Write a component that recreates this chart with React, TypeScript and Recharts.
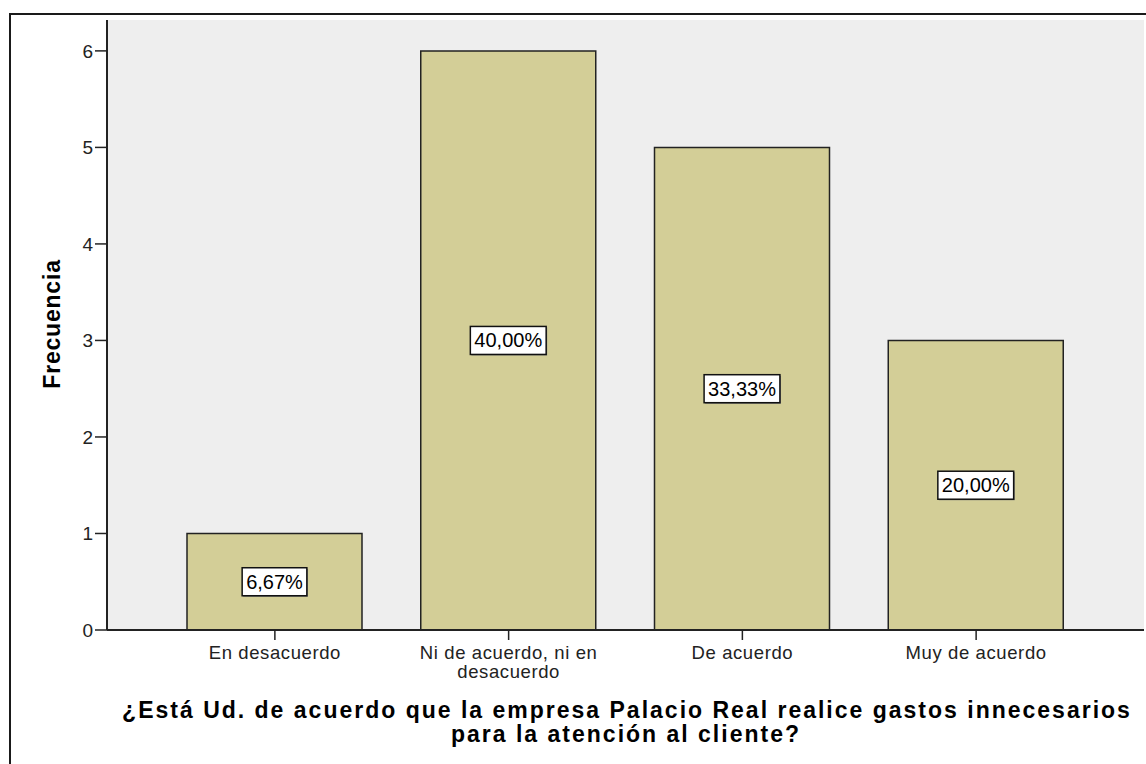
import { BarChart, Bar, XAxis, YAxis, CartesianGrid, LabelList, Text } from "recharts";

const categories = [
  "En desacuerdo",
  "Ni de acuerdo, ni en desacuerdo",
  "De acuerdo",
  "Muy de acuerdo",
];
const frecuencias = [1, 6, 5, 3];
const porcentajes = ["6,67%", "40,00%", "33,33%", "20,00%"];
const yTicks = [0, 1, 2, 3, 4, 5, 6];

const data = categories.map((c, i) => ({
  categoria: c,
  frecuencia: frecuencias[i],
  pct: porcentajes[i],
}));

const FONT = "'Liberation Sans', Arial, sans-serif";

// rough Arial widths to size the label boxes
const charW = (ch: string) => (ch === "," ? 0.278 : ch === "%" ? 0.889 : 0.556);

const PctLabel = (props: any) => {
  const { x, y, width, height, value } = props;
  const cx = x + width / 2;
  const cy = y + height / 2;
  const fs = 20;
  const tw = String(value).split("").reduce((s, c) => s + charW(c), 0) * fs;
  const bw = tw + 8;
  const bh = 28;
  return (
    <g>
      <rect x={cx - bw / 2 + 1} y={cy - bh / 2 + 1} width={bw} height={bh} fill="#777" />
      <rect x={cx - bw / 2} y={cy - bh / 2} width={bw} height={bh} fill="#fff" stroke="#111" strokeWidth={1.5} />
      <text x={cx} y={cy + 7} textAnchor="middle" fontFamily={FONT} fontSize={fs} fill="#000">
        {value}
      </text>
    </g>
  );
};

const CatTick = (props: any) => {
  const { x, y, payload } = props;
  return (
    <Text
      x={x}
      y={y}
      width={195}
      textAnchor="middle"
      verticalAnchor="start"
      lineHeight={19}
      style={{ fontFamily: FONT, fontSize: 18.5, fill: "#222", letterSpacing: 0.6 }}
    >
      {payload.value}
    </Text>
  );
};

export default function App() {
  return (
    <div
      style={{
        position: "absolute",
        left: 0,
        top: 0,
        width: 1146,
        height: 764,
        overflow: "hidden",
        background: "#fff",
      }}
    >
      <div
        style={{
          position: "absolute",
          left: 9,
          top: 13,
          width: 1200,
          height: 800,
          border: "2px solid #1a1a1a",
        }}
      />
      <div style={{ position: "absolute", left: 0, top: 0 }}>
        <BarChart
          width={1146}
          height={764}
          data={data}
          margin={{ top: 20, right: 2, left: 0, bottom: 0 }}
        >
          <CartesianGrid fill="#EEEEEE" horizontal={false} vertical={false} />
          <XAxis
            xAxisId="top"
            orientation="top"
            dataKey="categoria"
            height={0}
            tick={false}
            tickLine={false}
            axisLine={{ stroke: "#7a7a7a", strokeWidth: 2 }}
            padding={{ left: 51, right: 51 }}
          />
          <XAxis
            dataKey="categoria"
            height={134}
            padding={{ left: 51, right: 51 }}
            axisLine={{ stroke: "#222", strokeWidth: 2 }}
            tickLine={{ stroke: "#222", strokeWidth: 1.5 }}
            tickSize={10}
            tickMargin={6}
            interval={0}
            tick={<CatTick />}
            label={() => (
              <text
                textAnchor="middle"
                fontFamily={FONT}
                fontWeight="bold"
                fontSize={23}
                letterSpacing={2}
                fill="#000"
              >
                <tspan x={627} y={718}>
                  ¿Está Ud. de acuerdo que la empresa Palacio Real realice gastos innecesarios
                </tspan>
                <tspan x={626} y={742}>
                  para la atención al cliente?
                </tspan>
              </text>
            )}
          />
          <YAxis
            width={107}
            domain={[0, 6.32]}
            ticks={yTicks}
            allowDataOverflow
            axisLine={{ stroke: "#222", strokeWidth: 2 }}
            tickLine={{ stroke: "#222", strokeWidth: 1.5 }}
            tickSize={12}
            tickMargin={2}
            tick={{ fontFamily: FONT, fontSize: 19, fill: "#222" }}
            label={() => (
              <text
                x={52}
                y={324}
                transform="rotate(-90, 52, 324)"
                textAnchor="middle"
                dominantBaseline="central"
                fontFamily={FONT}
                fontWeight="bold"
                fontSize={23}
                letterSpacing={0.8}
                fill="#000"
              >
                Frecuencia
              </text>
            )}
          />
          <YAxis
            yAxisId="right"
            orientation="right"
            width={0}
            domain={[0, 6.32]}
            tick={false}
            tickLine={false}
            axisLine={{ stroke: "#7a7a7a", strokeWidth: 2 }}
          />
          <Bar
            dataKey="frecuencia"
            fill="#D3CE97"
            stroke="#222"
            strokeWidth={1.5}
            barSize={175}
            isAnimationActive={false}
          >
            <LabelList dataKey="pct" content={<PctLabel />} />
          </Bar>
        </BarChart>
      </div>
    </div>
  );
}
